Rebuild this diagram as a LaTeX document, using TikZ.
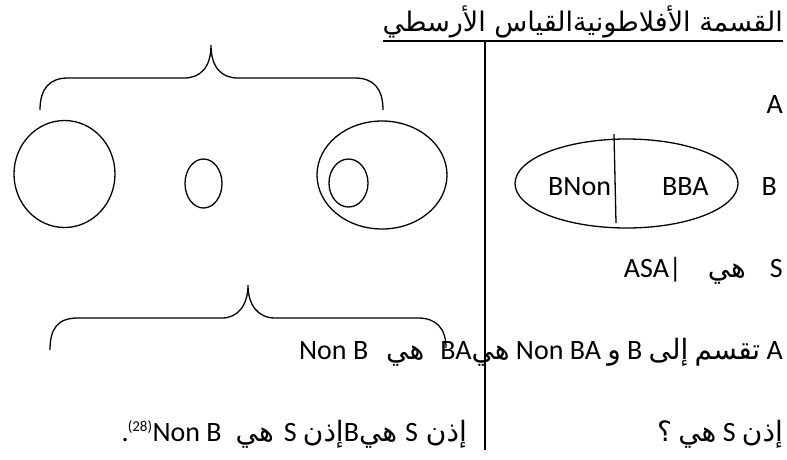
\documentclass[tikz,border=0pt]{standalone}
\usepackage{fontspec}
\setmainfont{Carlito}
\newfontfamily\ar[Script=Arabic]{DejaVu Sans}
\TeXXeTstate=1
\tikzset{
  shape line/.style={line width=1.3pt, black},
  rule line/.style={line width=2pt, black},
  txt/.style={anchor=base east, inner sep=0pt, font=\fontsize{28}{32}\selectfont},
  txtw/.style={anchor=base west, inner sep=0pt, font=\fontsize{28}{32}\selectfont},
}
\begin{document}
\begin{tikzpicture}[x=1pt,y=-1pt]
\useasboundingbox (0,0) rectangle (787,459);
% title and rules
\node[txt, font=\fontsize{27}{32}\selectfont] (title) at (783,31) {\ar\beginR القسمة الأفلاطونيةالقياس الأرسطي\endR};
\coordinate (ulL) at (383,41);
\coordinate (ulR) at (783,41);
\draw[rule line] (ulL) -- (ulR);
\coordinate (vTop) at (485,41);
\coordinate (vBot) at (485,450);
\draw[rule line] (vTop) -- (vBot);
% top brace
\coordinate (b1L) at (40,110);
\coordinate (b1T) at (211,45);
\coordinate (b1R) at (383,110);
\draw[shape line] (b1L) .. controls (40,88) and (50,78) .. (68,78) -- (184,78)
  .. controls (200,78) and (211,68) .. (b1T)
  .. controls (211,68) and (222,78) .. (238,78) -- (355,78)
  .. controls (373,78) and (383,88) .. (b1R);
% shapes
\draw[shape line] (64.5,174) ellipse [x radius=50.5, y radius=53.5];
\draw[shape line] (203.5,183.5) ellipse [x radius=18.5, y radius=24.5];
\draw[shape line] (382,175) ellipse [x radius=65, y radius=54];
\draw[shape line] (348.5,183) ellipse [x radius=19.5, y radius=24];
% bottom brace
\coordinate (b2L) at (50,350);
\coordinate (b2T) at (248,285);
\coordinate (b2R) at (446,348);
\draw[shape line] (b2L) .. controls (50,328) and (58,318) .. (78,318) -- (222,318)
  .. controls (238,318) and (248,305) .. (b2T)
  .. controls (248,305) and (258,318) .. (275,318) -- (418,318)
  .. controls (436,318) and (446,328) .. (b2R);
% right ellipse with divider
\draw[shape line] (626.5,183.5) ellipse [x radius=111.5, y radius=44.5];
\coordinate (dTop) at (614,134);
\coordinate (dBot) at (616,223);
\draw[shape line] (dTop) -- (dBot);
% texts
\node[txt] (tA) at (783,113) {A};
\node[txtw] (tBNon) at (548,195) {BNon};
\node[txtw] (tBBA) at (662,195) {BBA};
\node[txt] (tB) at (777,195) {B};
\node[txt] (tS) at (783,277) {ASA|\hspace{26pt}{\ar هي}\hspace{24pt}S};
\node[txt] (tL4) at (783,359) {Non B\hspace{18pt}{\ar هي}\hspace{16pt}BA{\ar هي} Non BA {\ar و} B {\ar إلى} {\ar تقسم} A};
\node[txt] (tL5r) at (783,441) {{\ar ؟} {\ar هي} S {\ar إذن}};
\node[txt] (tL5l) at (467,441) {.\kern-1pt\textsuperscript{\fontsize{15}{17}\selectfont(28)}Non B\hspace{14pt}{\ar هي}\hspace{10pt}S {\ar إذن}B{\ar هي}\hspace{8pt}S\hspace{8pt}{\ar إذن}};
\end{tikzpicture}
\end{document}
